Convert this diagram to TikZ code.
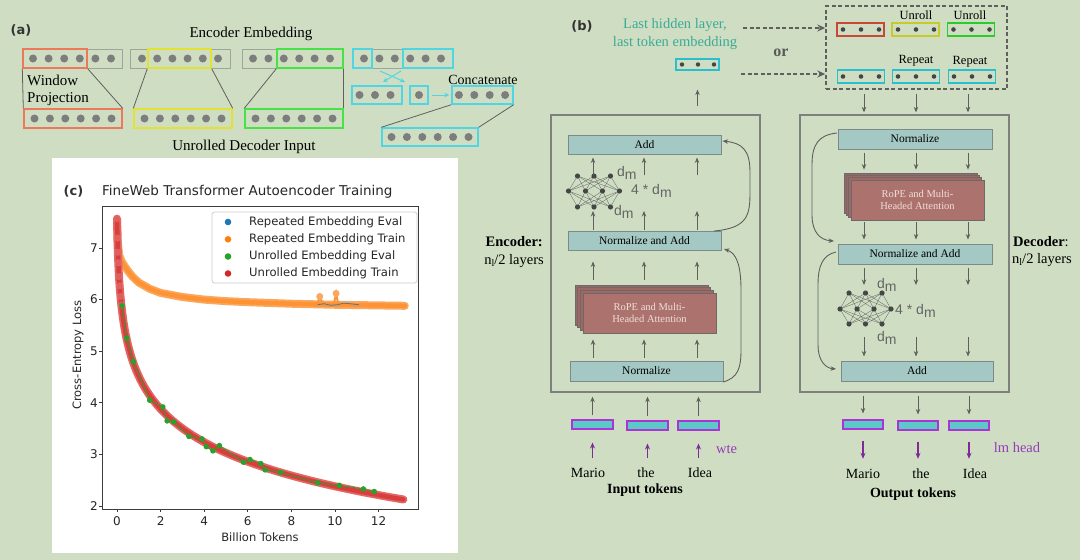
\documentclass[tikz,border=0pt]{standalone}
\usepackage{fontspec}
\setmainfont{Liberation Serif}
\newfontfamily\plotfont{DejaVu Sans}
\newfontfamily\dmfont{Liberation Sans}
\usetikzlibrary{arrows.meta}
\newcommand{\fsz}[2]{\fontsize{#1pt}{#2pt}\selectfont}
\definecolor{bg}{RGB}{207,222,195}
\definecolor{boxgray}{RGB}{158,166,152}
\definecolor{dotgray}{RGB}{125,125,125}
\definecolor{hlred}{RGB}{238,120,90}
\definecolor{hlyellow}{RGB}{226,226,50}
\definecolor{hlgreen}{RGB}{70,226,70}
\definecolor{hlcyan}{RGB}{80,214,226}
\definecolor{tealfill}{RGB}{164,200,195}
\definecolor{tealbd}{RGB}{125,138,136}
\definecolor{attnfill}{RGB}{172,114,110}
\definecolor{attnbd}{RGB}{112,104,104}
\definecolor{attntext}{RGB}{240,222,216}
\definecolor{embfill}{RGB}{92,200,200}
\definecolor{embbd}{RGB}{172,52,212}
\definecolor{purp}{RGB}{128,42,150}
\definecolor{purptext}{RGB}{150,60,185}
\definecolor{tealtext}{RGB}{58,170,150}
\definecolor{arrgray}{RGB}{95,95,95}
\definecolor{biggray}{RGB}{125,128,125}
\definecolor{vecred}{RGB}{200,72,52}
\definecolor{vecyellow}{RGB}{200,202,40}
\definecolor{vecgreen}{RGB}{40,205,40}
\definecolor{veccyan}{RGB}{40,192,206}
\definecolor{vecdot}{RGB}{70,70,70}
\definecolor{dmgray}{RGB}{100,100,100}
\definecolor{axisc}{RGB}{60,60,60}
\definecolor{mplblue}{RGB}{31,119,180}
\definecolor{mplorange}{RGB}{255,127,14}
\definecolor{mplgreen}{RGB}{44,160,44}
\definecolor{mplred}{RGB}{214,39,40}
\definecolor{orlight}{RGB}{248,168,96}
\definecolor{redlight}{RGB}{226,104,100}
\definecolor{legbd}{RGB}{205,205,205}
\newcommand{\dotrow}[6]{%
  \foreach \i in {1,...,#3}{\fill[#6] ({#1+(\i-(#3+1)/2)*#4},#2) circle[radius=#5pt];}}
\newcommand{\nnicon}[4]{%
  \foreach \a in {-16.5,0,16.5}{\foreach \b in {-25.5,-8.5,8.5,25.5}{%
    \draw[nnline] ({#1+\a},#2) -- ({#1+\b},#3);
    \draw[nnline] ({#1+\b},#3) -- ({#1+\a},#4);}}
  \foreach \a in {-16.5,0,16.5}{\fill[vecdot] ({#1+\a},#2) circle[radius=2.6pt];
    \fill[vecdot] ({#1+\a},#4) circle[radius=2.6pt];}
  \foreach \b in {-25.5,-8.5,8.5,25.5}{\fill[vecdot] ({#1+\b},#3) circle[radius=2.6pt];}}
\newcommand{\dmm}{d\raisebox{-0.45ex}{m}}
\begin{document}
\begin{tikzpicture}[x=1pt,y=-1pt,
  abox/.style={draw=boxgray, line width=1pt, inner sep=0pt, minimum height=19pt},
  hbox/.style={line width=1.4pt, inner sep=0pt, minimum height=19pt},
  aline/.style={draw=arrgray, line width=0.8pt},
  carr/.style={draw=hlcyan, line width=1pt, -{Stealth[length=5pt,width=4.5pt]}},
  tbox/.style={draw=tealbd, fill=tealfill, line width=1pt, inner sep=0pt, minimum height=20pt, font=\fsz{11.5}{13}},
  attn/.style={draw=attnbd, fill=attnfill, line width=0.8pt, inner sep=0pt, minimum width=133pt, minimum height=40pt, text=attntext, align=center, font=\fsz{10.5}{12.5}},
  attnback/.style={draw=attnbd, fill=attnfill!92!black, line width=0.8pt},
  emb/.style={draw=embbd, fill=embfill, line width=1.1pt, inner sep=0pt, minimum width=41pt, minimum height=9pt},
  vec/.style={line width=1.2pt, inner sep=0pt, minimum width=47pt, minimum height=13pt},
  garr/.style={draw=arrgray, line width=0.9pt, -{Stealth[length=5.5pt,width=4.5pt]}},
  parr/.style={draw=purp, line width=1.1pt, -{Stealth[length=6pt,width=5pt]}},
  darr/.style={draw=arrgray, line width=1.4pt, dash pattern=on 4pt off 2.5pt, -{Stealth[length=8pt,width=7pt]}},
  big/.style={draw=biggray, line width=1.3pt, inner sep=0pt},
  nnline/.style={draw=arrgray, line width=0.3pt},
  txt/.style={font=\fsz{14}{16}, inner sep=0pt},
  tok/.style={font=\fsz{14}{16}, inner sep=0pt, text height=10pt, anchor=base},
  dm/.style={font=\dmfont\fsz{14}{16}, text=dmgray, inner sep=0pt, anchor=west},
  panl/.style={font=\plotfont\bfseries\fsz{13}{15}, text=black!80, inner sep=0pt},
  pf/.style={font=\plotfont\fsz{12}{14}, text=black!85, inner sep=0pt},
]
\fill[bg] (0,0) rectangle (1080,560);
\useasboundingbox (0,0) rectangle (1080,560);

%================ Panel (a)
\node[panl] (alab) at (21,30) {(a)};
\node[txt, font=\fsz{15}{17}] (encemb) at (251,34) {Encoder Embedding};
\node[abox, minimum width=99pt] (t1) at (72.5,58.5) {};
\node[abox, minimum width=100pt] (t2) at (180,58.5) {};
\node[abox, minimum width=101pt] (t3) at (292.5,58.5) {};
\dotrow{72}{58.5}{6}{15.6}{4}{dotgray}
\dotrow{180}{58.5}{6}{15.2}{4}{dotgray}
\dotrow{291.5}{58.5}{6}{15.4}{4}{dotgray}
\node[hbox, draw=hlred, minimum width=64pt] (h1) at (55,58.5) {};
\node[hbox, draw=hlyellow, minimum width=63pt] (h2) at (179.5,58.5) {};
\node[hbox, draw=hlgreen, minimum width=66pt] (h3) at (310,58.5) {};
\node[hbox, draw=hlred, minimum width=98pt] (b1) at (73,118.5) {};
\node[hbox, draw=hlyellow, minimum width=98pt] (b2) at (183,118.5) {};
\node[hbox, draw=hlgreen, minimum width=98pt] (b3) at (294,118.5) {};
\dotrow{73}{118.5}{6}{15.4}{4}{dotgray}
\dotrow{183}{118.5}{6}{15.4}{4}{dotgray}
\dotrow{294}{118.5}{6}{15.4}{4}{dotgray}
\draw[aline] (h1.south west) -- (b1.north west);
\draw[aline] (h1.south east) -- (b1.north east);
\draw[aline] (h2.south west) -- (b2.north west);
\draw[aline] (h2.south east) -- (b2.north east);
\draw[aline] (h3.south west) -- (b3.north west);
\draw[aline] (h3.south east) -- (b3.north east);
\node[txt, font=\fsz{15}{17}, anchor=west] (win) at (27,80) {Window};
\node[txt, font=\fsz{15}{17}, anchor=west] (proj) at (27,99) {Projection};
\node[txt, font=\fsz{15}{17}] (udi) at (244,147) {Unrolled Decoder Input};
% cyan part
\node[abox, minimum width=100pt] (c0) at (403,58.5) {};
\node[hbox, draw=hlcyan, minimum width=19pt] (c1) at (362.5,58.5) {};
\node[hbox, draw=hlcyan, minimum width=50pt] (c2) at (428,58.5) {};
\dotrow{402.5}{58.5}{6}{15.4}{4}{dotgray}
\node[hbox, draw=hlcyan, minimum width=50pt, minimum height=18pt] (m1) at (377,95) {};
\node[hbox, draw=hlcyan, minimum width=18pt, minimum height=18pt] (m2) at (419,95) {};
\node[hbox, draw=hlcyan, minimum width=61pt, minimum height=18pt] (m3) at (482.5,95) {};
\node[hbox, draw=hlcyan, minimum width=96pt, minimum height=18pt] (m4) at (430,137) {};
\dotrow{375}{95}{3}{15.5}{4}{dotgray}
\dotrow{419}{95}{1}{15.5}{4}{dotgray}
\dotrow{482}{95}{4}{15.4}{4}{dotgray}
\dotrow{430}{137}{6}{15.4}{4}{dotgray}
\draw[carr] (380,71) -- (405,82);
\draw[carr] (401,71) -- (383,82);
\draw[carr, shorten <=3pt, shorten >=2pt] (m2.east) -- (m3.west);
\draw[aline] (m3.south west) -- (m4.north west);
\draw[aline] (m3.south east) -- (m4.north east);
\node[txt, font=\fsz{14}{16}] (concat) at (483,80) {Concatenate};

%================ Panel (c)
\fill[white] (52,158) rectangle (458,553);
\begin{scope}[shift={(117,609.2)}, x=21.8pt, y=51.6pt]
  \begin{scope}
    \clip (-0.688,1.942) rectangle (13.807,7.814);
    % orange (repeated train)
    \draw[orlight, line width=8pt, line join=round, line cap=round] plot coordinates {(0,7.55) (0.04,7.1) (0.1,6.86) (0.2,6.75) (0.3,6.68) (0.46,6.58) (0.7,6.45) (1,6.33) (1.5,6.21) (2,6.13) (3,6.05) (4,6.0) (5,5.97) (6,5.95) (8,5.92) (10,5.9) (13.2,5.88)};
    \draw[mplorange!85!white, line width=4.5pt, line join=round, line cap=round] plot coordinates {(0,7.55) (0.04,7.1) (0.1,6.86) (0.2,6.75) (0.3,6.68) (0.46,6.58) (0.7,6.45) (1,6.33) (1.5,6.21) (2,6.13) (3,6.05) (4,6.0) (5,5.97) (6,5.95) (8,5.92) (10,5.9) (13.2,5.88)};
    \draw[mplorange!85!white, line width=2pt] plot coordinates {(9.2,5.92) (9.3,6.06) (9.42,5.93) (9.95,5.91) (10.05,6.12) (10.15,5.91)};
    \fill[orlight] (9.3,6.06) circle[radius=3.5pt];
    \fill[orlight] (10.05,6.12) circle[radius=3.5pt];
    \draw[mplblue!60!gray, line width=0.8pt] plot coordinates {(9.2,5.9) (9.5,5.92) (9.8,5.89) (10.1,5.9) (10.4,5.93) (10.7,5.92) (11.1,5.9)};
    % red (unrolled train)
    \draw[redlight, line width=8pt, line cap=round] plot[domain=0:3.626, samples=120] ({\x*\x}, {4.55-0.94*ln(\x*\x+0.04)});
    \draw[mplred!90!white, line width=4.5pt, line cap=round] plot[domain=0:3.626, samples=120] ({\x*\x}, {4.55-0.94*ln(\x*\x+0.04)});
    \foreach \p in {0,0.02,0.04,0.06,0.09,0.12,0.16,0.2}{\fill[redlight, opacity=0.8] (\p,{4.55-0.94*ln(\p+0.04)}) circle[radius=3.6pt];}
    % green (unrolled eval)
    \draw[mplgreen, line width=0.8pt] plot coordinates {(0.23,5.88) (0.45,5.25) (0.75,4.8) (1.5,4.05) (2.1,3.92) (2.3,3.65) (2.6,3.63) (3.3,3.35) (3.9,3.3) (4.1,3.15) (4.4,3.07) (4.7,3.17) (5.8,2.85) (6.1,2.9) (6.6,2.82) (6.8,2.7) (7.5,2.65) (9.2,2.45) (10.2,2.4) (11.3,2.33) (11.8,2.28)};
    \foreach \p/\q in {0.23/5.88,0.45/5.25,0.75/4.8,1.5/4.05,2.1/3.92,2.3/3.65,2.6/3.63,3.3/3.35,3.9/3.3,4.1/3.15,4.4/3.07,4.7/3.17,5.8/2.85,6.1/2.9,6.6/2.82,6.8/2.7,7.5/2.65,9.2/2.45,10.2/2.4,11.3/2.33,11.8/2.28}{\fill[mplgreen] (\p,\q) circle[radius=2.8pt];}
  \end{scope}
  \draw[axisc, line width=0.9pt] (-0.688,1.942) rectangle (13.807,7.814);
  \foreach \t in {0,2,...,12}{
    \draw[axisc, line width=0.8pt] (\t,1.942) -- ++(0pt,-3.5pt);
    \node[pf] at (\t,1.709) {\t};}
  \foreach \v in {2,...,7}{
    \draw[axisc, line width=0.8pt] (-0.688,\v) -- ++(-3.5pt,0pt);
    \node[pf, anchor=east] at (-0.87,\v) {\v};}
\end{scope}
\node[pf, font=\plotfont\fsz{11.5}{13}] (xlab) at (260,537) {Billion Tokens};
\node[pf, font=\plotfont\fsz{11.5}{13}, rotate=90] (ylab) at (78,355) {Cross-Entropy Loss};
\node[pf, font=\plotfont\fsz{13.5}{15}, anchor=west] (ptitle) at (102,192) {FineWeb Transformer Autoencoder Training};
\node[panl] (clab) at (73.5,191) {(c)};
\node[draw=legbd, fill=white, line width=0.8pt, rounded corners=2.5pt, minimum width=205pt, minimum height=71pt, inner sep=0pt] (leg) at (314.5,247.5) {};
\foreach \yy/\cc/\tt in {222/mplblue/Repeated Embedding Eval, 239.3/mplorange/Repeated Embedding Train, 256.5/mplgreen/Unrolled Embedding Eval, 273.5/mplred/Unrolled Embedding Train}{
  \fill[\cc] (228,\yy) circle[radius=3.3pt];
  \node[pf, font=\plotfont\fsz{11.6}{13}, anchor=west] at (249,\yy) {\tt};}

%================ Panel (b)
\node[panl] (blab) at (582,26) {(b)};
\node[txt, font=\fsz{14.5}{16}, text=tealtext] (lh1) at (675,25) {Last hidden layer,};
\node[txt, font=\fsz{14.5}{16}, text=tealtext] (lh2) at (675,43) {last token embedding};
\node[vec, draw=veccyan, minimum width=43pt, minimum height=11pt] (lastvec) at (697.5,64.5) {};
\dotrow{698}{64.5}{3}{16}{2.2}{vecdot}
% encoder
\node[big, minimum width=209pt, minimum height=277pt] (enc) at (655.5,253.5) {};
\node[tbox, minimum width=153pt, minimum height=19pt] (encAdd) at (644.5,144.5) {Add};
\node[tbox, minimum width=153pt, minimum height=19pt] (encNA) at (644.5,240.5) {Normalize and Add};
\foreach \d in {8,5.3,2.7}{\draw[attnback] (583-\d,293-\d) rectangle (716-\d,333-\d);}
\node[attn] (encAttn) at (649.5,313) {RoPE and Multi-\\Headed Attention};
\node[tbox, minimum width=153pt] (encNorm) at (646.5,371) {Normalize};
\nnicon{594}{176}{191}{207}
\coordinate (encNNt) at (594,176);
\coordinate (encNNb) at (594,207);
\node[dm] (edm1) at (617,173) {\dmm};
\node[dm] (edm2) at (631,191) {4 * \dmm};
\node[dm] (edm3) at (614,212) {\dmm};
\coordinate (ec1) at (593,0);
\coordinate (ec2) at (644,0);
\coordinate (ec3) at (697,0);
\node[emb] (ei1) at (592.5,424.5) {};
\node[emb] (ei2) at (647.5,425.5) {};
\node[emb] (ei3) at (698.5,425.5) {};
\node[tok] (tI1) at (588,477) {Mario};
\node[tok] (tI2) at (646,477) {the};
\node[tok] (tI3) at (700,477) {Idea};
\node[tok, font=\bfseries\fsz{14}{16}] (tIlab) at (645,493) {Input tokens};
\node[txt, text=purptext, font=\fsz{14.5}{16}] (wte) at (726.5,449) {wte};
\node[txt, font=\bfseries\fsz{14.5}{16}, anchor=east] (enclab) at (543,242) {Encoder:};
\node[txt, font=\fsz{14.5}{16}, anchor=east] (enclab2) at (544,261) {n\raisebox{-0.35ex}{\fsz{10}{11}l}/2 layers};
\foreach \k in {1,2,3}{
  \draw[garr, shorten <=4pt, shorten >=4pt] (ei\k.north) -- (ei\k.north |- enc.south);
  \draw[parr, shorten <=9pt, shorten >=13pt] (ei\k.south |- tI\k.north) -- (ei\k.south);
  \draw[garr, shorten <=3pt, shorten >=6pt] (ec\k |- encNorm.north) -- (ec\k |- encAttn.south);
  \draw[garr, shorten <=13pt, shorten >=11pt] (ec\k |- encAttn.north) -- (ec\k |- encNA.south);
  \draw[garr, shorten <=1pt, shorten >=4pt] (ec\k |- encNA.north) -- (ec\k |- encNNb);
  \draw[garr, shorten <=1pt, shorten >=3pt] (ec\k |- encNNt) -- (ec\k |- encAdd.south);
}
\draw[garr, shorten <=8pt, shorten >=19pt] (lastvec.south |- enc.north) -- (lastvec.south);
\draw[garr] (714,231) .. controls (748,228) and (750,215) .. (750,192) -- (750,172) .. controls (750,150) and (742,143) .. (722.5,141);
\draw[garr] (723,382) .. controls (738,378) and (741,368) .. (741,350) -- (741,290) .. controls (741,264) and (736,253) .. (724,249);
% dashed
\node[big, draw=arrgray, dash pattern=on 4pt off 2.5pt, line width=1.4pt, minimum width=181pt, minimum height=83pt] (dbox) at (916.5,47.5) {};
\node[vec, draw=vecred] (vr) at (860.5,29.5) {};
\node[vec, draw=vecyellow] (vy) at (915.5,29.5) {};
\node[vec, draw=vecgreen] (vg) at (971,29.5) {};
\node[vec, draw=veccyan] (vc1) at (861,76.5) {};
\node[vec, draw=veccyan] (vc2) at (916,76.5) {};
\node[vec, draw=veccyan] (vc3) at (972,76.5) {};
\dotrow{861}{29.5}{3}{18}{2.3}{vecdot}
\dotrow{916}{29.5}{3}{18}{2.3}{vecdot}
\dotrow{971.5}{29.5}{3}{18}{2.3}{vecdot}
\dotrow{861}{76.5}{3}{18}{2.3}{vecdot}
\dotrow{916}{76.5}{3}{18}{2.3}{vecdot}
\dotrow{972}{76.5}{3}{18}{2.3}{vecdot}
\node[txt, font=\fsz{12.5}{14}] (un1) at (916,15) {Unroll};
\node[txt, font=\fsz{12.5}{14}] (un2) at (970,15) {Unroll};
\node[txt, font=\fsz{12.5}{14}] (rp1) at (916,61) {Repeat};
\node[txt, font=\fsz{12.5}{14}] (rp2) at (970,62) {Repeat};
\coordinate (da1) at (743,28);
\coordinate (da2) at (741,74);
\draw[darr] (da1) -- (da1 -| dbox.west);
\draw[darr] (da2) -- (da2 -| dbox.west);
\node[txt, font=\bfseries\fsz{16}{18}, text=black!65] (or) at (781,53) {or};
% decoder
\node[big, minimum width=209pt, minimum height=277pt] (dec) at (904.5,253.5) {};
\node[tbox, minimum width=154pt] (decNorm) at (915,139) {Normalize};
\foreach \d in {7,4.7,2.3}{\draw[attnback] (851-\d,180-\d) rectangle (984-\d,220-\d);}
\node[attn] (decAttn) at (917.5,200) {RoPE and Multi-\\Headed Attention};
\node[tbox, minimum width=154pt] (decNA) at (915,254) {Normalize and Add};
\node[tbox, minimum width=152pt] (decAdd) at (917,371) {Add};
\nnicon{865.5}{293}{309}{324}
\coordinate (decNNt) at (865.5,293);
\coordinate (decNNb) at (865.5,324);
\node[dm] (ddm1) at (877,285) {\dmm};
\node[dm] (ddm2) at (895,311) {4 * \dmm};
\node[dm] (ddm3) at (877,338) {\dmm};
\coordinate (dc1) at (864,0);
\coordinate (dc2) at (916,0);
\coordinate (dc3) at (968,0);
\node[emb, minimum width=40pt] (eo1) at (863,424.5) {};
\node[emb, minimum width=40pt] (eo2) at (918,425.5) {};
\node[emb, minimum width=40pt] (eo3) at (969,425.5) {};
\node[tok] (tO1) at (863,478) {Mario};
\node[tok] (tO2) at (921,478) {the};
\node[tok] (tO3) at (975,478) {Idea};
\node[tok, font=\bfseries\fsz{14}{16}] (tOlab) at (913,497) {Output tokens};
\node[txt, text=purptext, font=\fsz{14.5}{16}] (lmh) at (1017,448) {lm head};
\node[txt, font=\fsz{14.5}{16}, anchor=west] (declab) at (1013,242) {\textbf{Decoder}:};
\node[txt, font=\fsz{14.5}{16}, anchor=west] (declab2) at (1012,260) {n\raisebox{-0.35ex}{\fsz{10}{11}l}/2 layers};
\foreach \k in {1,2,3}{
  \draw[garr, shorten <=4pt, shorten >=2pt] (dc\k |- dbox.south) -- (dc\k |- dec.north);
  \draw[garr, shorten <=3pt, shorten >=10pt] (dc\k |- decNorm.south) -- (dc\k |- decAttn.north);
  \draw[garr, shorten <=2pt, shorten >=4pt] (dc\k |- decAttn.south) -- (dc\k |- decNA.north);
  \draw[garr, shorten <=3pt, shorten >=8pt] (dc\k |- decNA.south) -- (dc\k |- decNNt);
  \draw[garr, shorten <=13pt, shorten >=4pt] (dc\k |- decNNb) -- (dc\k |- decAdd.north);
  \draw[garr, shorten <=3pt, shorten >=6pt] (eo\k.north |- dec.south) -- (eo\k.north);
  \draw[parr, shorten <=11pt, shorten >=9pt] (eo\k.south) -- (eo\k.south |- tO\k.north);
}
\draw[garr] (837,133) .. controls (818,135) and (812,145) .. (812,165) -- (812,215) .. controls (812,232) and (820,240) .. (834,241);
\draw[garr] (836,252) .. controls (823,255) and (818,265) .. (818,285) -- (818,345) .. controls (818,360) and (825,368) .. (836,369);
\end{tikzpicture}
\end{document}
